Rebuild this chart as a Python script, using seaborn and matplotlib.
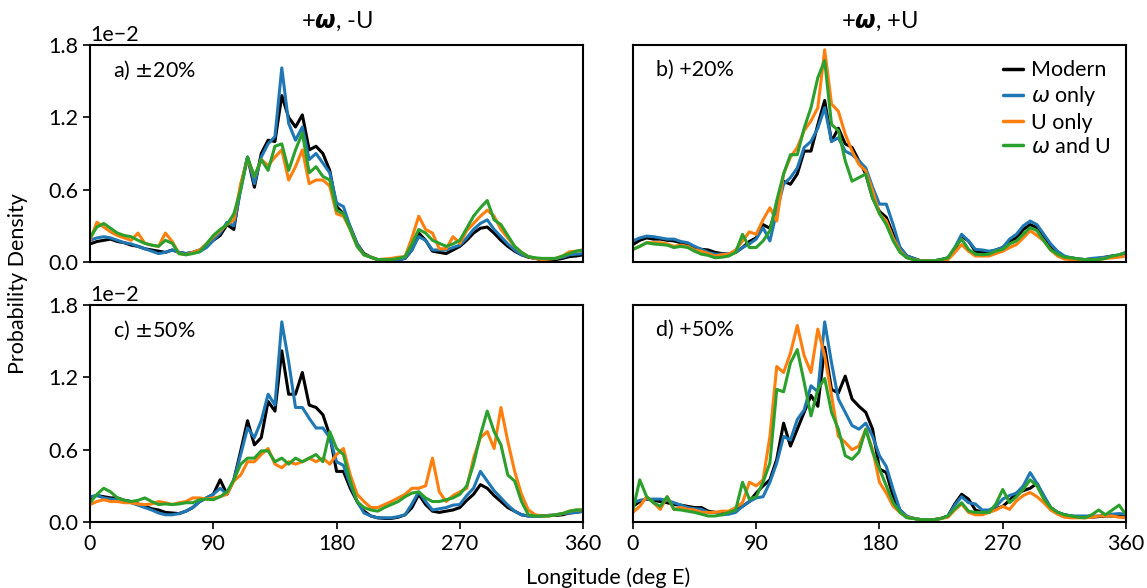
import numpy as np
import pandas as pd
import matplotlib
matplotlib.use("Agg")
import matplotlib.pyplot as plt
import seaborn as sns

# Longitude grid (deg E)
lon = list(range(0, 361, 5))

# Values in units of 1e-2
# Panel a) +w,-U  +-20%
a_modern = [0.15,0.17,0.18,0.19,0.17,0.16,0.14,0.13,0.11,0.10,0.09,0.08,0.10,0.08,0.07,0.08,0.10,0.13,0.18,0.22,
            0.31,0.27,0.63,0.87,0.62,0.90,1.01,1.00,1.38,1.20,1.12,1.22,0.93,0.96,0.90,0.76,0.46,0.40,0.29,0.15,
            0.07,0.04,0.02,0.02,0.02,0.02,0.03,0.10,0.24,0.18,0.09,0.08,0.07,0.10,0.13,0.18,0.24,0.28,0.29,0.24,
            0.18,0.13,0.09,0.06,0.04,0.03,0.02,0.02,0.02,0.03,0.045,0.05,0.06]
a_omega = [0.18,0.20,0.21,0.20,0.18,0.16,0.15,0.13,0.11,0.09,0.07,0.08,0.10,0.08,0.07,0.08,0.085,0.12,0.18,0.24,
           0.33,0.30,0.60,0.87,0.65,0.87,0.98,1.04,1.61,1.15,1.01,1.12,0.85,0.90,0.82,0.74,0.49,0.46,0.29,0.15,
           0.06,0.04,0.02,0.02,0.02,0.02,0.03,0.10,0.21,0.18,0.10,0.10,0.10,0.12,0.14,0.20,0.27,0.32,0.35,0.27,
           0.21,0.15,0.10,0.06,0.045,0.03,0.02,0.025,0.03,0.04,0.06,0.065,0.07]
a_U = [0.18,0.33,0.29,0.25,0.22,0.20,0.18,0.24,0.155,0.14,0.13,0.24,0.17,0.07,0.06,0.08,0.10,0.15,0.21,0.26,
       0.31,0.35,0.65,0.85,0.71,0.85,0.80,0.87,0.93,0.68,0.79,0.93,0.65,0.68,0.68,0.63,0.40,0.38,0.27,0.13,
       0.06,0.04,0.02,0.025,0.03,0.04,0.045,0.20,0.38,0.27,0.24,0.11,0.11,0.21,0.155,0.26,0.32,0.38,0.43,0.38,
       0.27,0.20,0.13,0.08,0.045,0.03,0.02,0.025,0.03,0.05,0.085,0.09,0.10]
a_both = [0.20,0.29,0.32,0.28,0.24,0.22,0.21,0.18,0.155,0.14,0.13,0.18,0.155,0.07,0.06,0.07,0.085,0.15,0.22,0.27,
          0.31,0.40,0.60,0.87,0.71,0.85,0.76,0.96,0.98,0.76,0.93,1.07,0.74,0.79,0.71,0.68,0.43,0.40,0.27,0.13,
          0.06,0.04,0.02,0.02,0.02,0.03,0.045,0.15,0.27,0.24,0.18,0.155,0.13,0.15,0.18,0.28,0.38,0.45,0.51,0.35,
          0.31,0.22,0.13,0.08,0.045,0.035,0.03,0.03,0.03,0.05,0.07,0.09,0.10]

# Panel b) +w,+U  +20%
b_modern = [0.145,0.18,0.20,0.19,0.19,0.18,0.175,0.16,0.145,0.12,0.105,0.10,0.08,0.07,0.065,0.08,0.12,0.17,0.20,0.31,
            0.28,0.45,0.67,0.645,0.73,0.92,0.92,1.14,1.34,1.00,1.11,0.98,0.95,0.84,0.73,0.53,0.42,0.37,0.23,0.12,
            0.05,0.03,0.01,0.01,0.01,0.02,0.035,0.10,0.215,0.175,0.09,0.08,0.08,0.10,0.12,0.175,0.20,0.27,0.31,0.285,
            0.20,0.12,0.065,0.04,0.035,0.025,0.02,0.025,0.03,0.04,0.05,0.055,0.065]
b_omega = [0.175,0.20,0.215,0.21,0.20,0.19,0.19,0.17,0.16,0.13,0.105,0.08,0.065,0.065,0.065,0.08,0.12,0.15,0.19,0.285,
           0.175,0.42,0.645,0.70,0.78,0.95,1.00,1.11,1.28,1.00,1.03,0.92,0.89,0.84,0.78,0.62,0.48,0.48,0.31,0.12,
           0.05,0.03,0.01,0.01,0.01,0.02,0.035,0.12,0.23,0.175,0.105,0.10,0.09,0.10,0.12,0.19,0.23,0.30,0.34,0.31,
           0.23,0.15,0.09,0.05,0.035,0.025,0.02,0.03,0.035,0.04,0.05,0.06,0.08]
b_U = [0.105,0.13,0.16,0.16,0.16,0.15,0.13,0.14,0.13,0.10,0.09,0.07,0.05,0.06,0.065,0.10,0.175,0.25,0.23,0.35,
       0.45,0.34,0.73,0.87,0.95,1.09,1.17,1.28,1.76,1.31,1.25,1.06,0.92,0.81,0.755,0.59,0.40,0.34,0.20,0.09,
       0.035,0.02,0.01,0.01,0.01,0.01,0.02,0.08,0.145,0.09,0.05,0.05,0.05,0.07,0.09,0.12,0.145,0.20,0.26,0.22,
       0.175,0.10,0.05,0.025,0.02,0.015,0.015,0.015,0.02,0.03,0.035,0.04,0.05]
b_both = [0.105,0.13,0.16,0.15,0.145,0.14,0.12,0.13,0.12,0.09,0.065,0.055,0.035,0.04,0.05,0.08,0.23,0.12,0.12,0.175,
          0.26,0.51,0.73,0.89,0.89,1.11,1.28,1.53,1.67,1.14,1.09,0.84,0.67,0.70,0.73,0.53,0.40,0.31,0.175,0.08,
          0.035,0.02,0.01,0.01,0.01,0.02,0.035,0.12,0.19,0.105,0.065,0.06,0.065,0.09,0.105,0.15,0.175,0.23,0.285,0.26,
          0.175,0.10,0.065,0.04,0.035,0.025,0.02,0.02,0.02,0.03,0.05,0.06,0.08]

# Panel c) +w,-U  +-50%
c_modern = [0.20,0.22,0.21,0.20,0.20,0.18,0.17,0.15,0.13,0.11,0.10,0.08,0.075,0.07,0.09,0.12,0.17,0.20,0.23,0.35,
            0.23,0.35,0.59,0.84,0.64,0.70,1.00,0.92,1.42,1.06,1.06,1.24,0.97,0.95,0.89,0.72,0.42,0.42,0.28,0.17,
            0.09,0.05,0.035,0.03,0.03,0.04,0.06,0.12,0.23,0.145,0.09,0.08,0.09,0.10,0.12,0.18,0.23,0.31,0.28,0.22,
            0.17,0.12,0.09,0.06,0.05,0.05,0.05,0.055,0.055,0.06,0.075,0.08,0.09]
c_omega = [0.21,0.22,0.20,0.19,0.185,0.17,0.16,0.14,0.12,0.10,0.075,0.06,0.06,0.07,0.09,0.12,0.17,0.20,0.23,0.28,
           0.23,0.35,0.56,0.78,0.70,0.84,1.06,0.97,1.66,1.33,0.95,0.95,0.86,0.78,0.78,0.70,0.50,0.47,0.31,0.17,
           0.075,0.05,0.035,0.035,0.035,0.045,0.06,0.15,0.25,0.17,0.10,0.11,0.12,0.14,0.145,0.22,0.28,0.42,0.34,0.26,
           0.20,0.14,0.09,0.06,0.05,0.05,0.05,0.055,0.06,0.07,0.075,0.08,0.09]
c_U = [0.145,0.17,0.185,0.17,0.17,0.16,0.16,0.15,0.145,0.15,0.17,0.16,0.145,0.16,0.17,0.20,0.20,0.19,0.20,0.21,
       0.23,0.34,0.39,0.50,0.50,0.56,0.61,0.48,0.45,0.50,0.48,0.50,0.53,0.50,0.53,0.48,0.56,0.61,0.39,0.23,
       0.17,0.12,0.12,0.145,0.17,0.20,0.23,0.28,0.28,0.30,0.53,0.25,0.17,0.22,0.25,0.28,0.53,0.70,0.75,0.61,
       0.95,0.67,0.42,0.23,0.10,0.06,0.05,0.05,0.06,0.07,0.09,0.10,0.10]
c_both = [0.16,0.23,0.28,0.25,0.20,0.18,0.17,0.18,0.20,0.17,0.145,0.15,0.145,0.15,0.16,0.16,0.185,0.19,0.185,0.21,
          0.25,0.35,0.48,0.53,0.53,0.59,0.59,0.50,0.53,0.48,0.53,0.50,0.53,0.56,0.50,0.75,0.61,0.56,0.34,0.17,
          0.12,0.10,0.09,0.12,0.145,0.17,0.21,0.24,0.25,0.20,0.17,0.17,0.185,0.20,0.23,0.30,0.48,0.72,0.92,0.75,
          0.64,0.39,0.34,0.17,0.06,0.05,0.05,0.05,0.06,0.07,0.09,0.10,0.10]

# Panel d) +w,+U  +50%
d_modern = [0.13,0.17,0.19,0.18,0.17,0.16,0.145,0.14,0.13,0.12,0.12,0.09,0.08,0.08,0.08,0.10,0.13,0.17,0.24,0.30,
            0.35,0.52,0.82,0.63,0.77,0.91,1.05,0.96,1.45,1.10,1.07,1.21,1.02,0.96,0.91,0.77,0.44,0.41,0.21,0.10,
            0.04,0.03,0.02,0.02,0.02,0.03,0.05,0.15,0.23,0.19,0.10,0.08,0.08,0.11,0.13,0.18,0.24,0.26,0.28,0.32,
            0.21,0.12,0.08,0.06,0.05,0.04,0.04,0.04,0.045,0.05,0.05,0.05,0.05]
d_omega = [0.16,0.18,0.19,0.19,0.19,0.18,0.16,0.14,0.12,0.11,0.105,0.08,0.08,0.06,0.065,0.08,0.13,0.17,0.20,0.21,
           0.33,0.49,0.71,0.68,0.85,0.93,1.13,1.08,1.66,1.32,1.02,0.91,0.80,0.77,0.82,0.71,0.55,0.46,0.27,0.10,
           0.05,0.03,0.02,0.02,0.02,0.03,0.05,0.14,0.21,0.16,0.15,0.10,0.10,0.13,0.19,0.22,0.24,0.30,0.41,0.32,
           0.22,0.12,0.08,0.06,0.05,0.05,0.05,0.05,0.05,0.06,0.065,0.07,0.065]
d_U = [0.08,0.13,0.21,0.16,0.105,0.21,0.105,0.12,0.105,0.10,0.08,0.08,0.08,0.09,0.09,0.12,0.16,0.33,0.30,0.35,
       0.71,1.29,1.24,1.40,1.63,1.38,1.24,1.60,1.38,1.05,0.71,0.66,0.60,0.63,0.77,0.60,0.33,0.24,0.13,0.08,
       0.04,0.03,0.02,0.02,0.02,0.03,0.04,0.10,0.15,0.08,0.06,0.06,0.08,0.10,0.13,0.105,0.175,0.22,0.245,0.21,
       0.16,0.10,0.065,0.04,0.035,0.035,0.035,0.04,0.05,0.05,0.05,0.04,0.035]
d_both = [0.10,0.35,0.21,0.16,0.13,0.21,0.105,0.10,0.09,0.08,0.065,0.05,0.05,0.06,0.08,0.10,0.33,0.19,0.21,0.33,
          0.49,1.10,1.08,1.32,1.43,1.16,0.88,1.10,1.19,0.91,0.77,0.55,0.52,0.58,0.77,0.58,0.44,0.30,0.16,0.08,
          0.035,0.03,0.02,0.02,0.02,0.03,0.05,0.11,0.16,0.09,0.08,0.08,0.08,0.15,0.27,0.16,0.21,0.27,0.35,0.30,
          0.19,0.12,0.08,0.06,0.05,0.04,0.035,0.06,0.10,0.06,0.10,0.14,0.06]

series_names = ["Modern", r"$\omega$ only", "U only", r"$\omega$ and U"]
series_colors = ["black", "#1f77b4", "#ff7f0e", "#2ca02c"]
panel_labels = [r"a) $\pm$20%", "b) +20%", r"c) $\pm$50%", "d) +50%"]
col_titles = [r"+$\boldsymbol{\omega}$, -U", r"+$\boldsymbol{\omega}$, +U"]
xticks = [0, 90, 180, 270, 360]
yticks = [0.0, 0.6, 1.2, 1.8]

panels = [
    [a_modern, a_omega, a_U, a_both],
    [b_modern, b_omega, b_U, b_both],
    [c_modern, c_omega, c_U, c_both],
    [d_modern, d_omega, d_U, d_both],
]

FS = 15.5

sns.set_style("ticks")
plt.rcParams["font.family"] = ["Lato", "DejaVu Sans"]
plt.rcParams["mathtext.fontset"] = "dejavusans"
plt.rcParams["axes.edgecolor"] = "black"
plt.rcParams["axes.linewidth"] = 1.5
plt.rcParams["xtick.color"] = "black"
plt.rcParams["ytick.color"] = "black"
plt.rcParams["text.color"] = "black"

fig, axes = plt.subplots(2, 2, figsize=(11.47, 5.88), dpi=100)
fig.subplots_adjust(left=0.0785, right=0.9817, top=0.9235, bottom=0.1122,
                    wspace=0.101, hspace=0.198)

for i, ax in enumerate(axes.flat):
    rows = []
    for name, vals in zip(series_names, panels[i]):
        for x, v in zip(lon, vals):
            rows.append({"lon": x, "pd": v * 1e-2, "series": name})
    df = pd.DataFrame(rows)
    sns.lineplot(data=df, x="lon", y="pd", hue="series", hue_order=series_names,
                 palette=series_colors, linewidth=2.2, ax=ax, legend=(i == 1))
    ax.set_xlim(0, 360)
    ax.set_ylim(0, 0.018)
    ax.set_xticks(xticks)
    ax.set_yticks([t * 1e-2 for t in yticks])
    ax.set_xlabel("")
    ax.set_ylabel("")
    ax.tick_params(labelsize=FS, length=5, width=1.2)
    ax.text(0.047, 0.885, panel_labels[i], transform=ax.transAxes,
            ha="left", va="center", fontsize=FS)
    for s in ax.spines.values():
        s.set_visible(True)
    if i < 2:
        ax.tick_params(axis="x", bottom=False, labelbottom=False)
        ax.set_title(col_titles[i], fontsize=17, pad=12)
    if i % 2 == 1:
        ax.tick_params(axis="y", left=False, labelleft=False)
    else:
        ax.ticklabel_format(style="sci", axis="y", scilimits=(0, 0))
        ax.yaxis.get_offset_text().set_fontsize(FS)

leg = axes[0, 1].legend(loc="upper right", frameon=False, fontsize=FS,
                        handlelength=0.9, handletextpad=0.4, labelspacing=0.2,
                        borderaxespad=0.3)
for line in leg.get_lines():
    line.set_linewidth(2.5)

fig.text(0.53, 0.018, "Longitude (deg E)", ha="center", va="center", fontsize=FS)
fig.text(0.016, 0.518, "Probability Density", ha="center", va="center",
         rotation=90, fontsize=FS)

fig.savefig("out.png", dpi=100)
